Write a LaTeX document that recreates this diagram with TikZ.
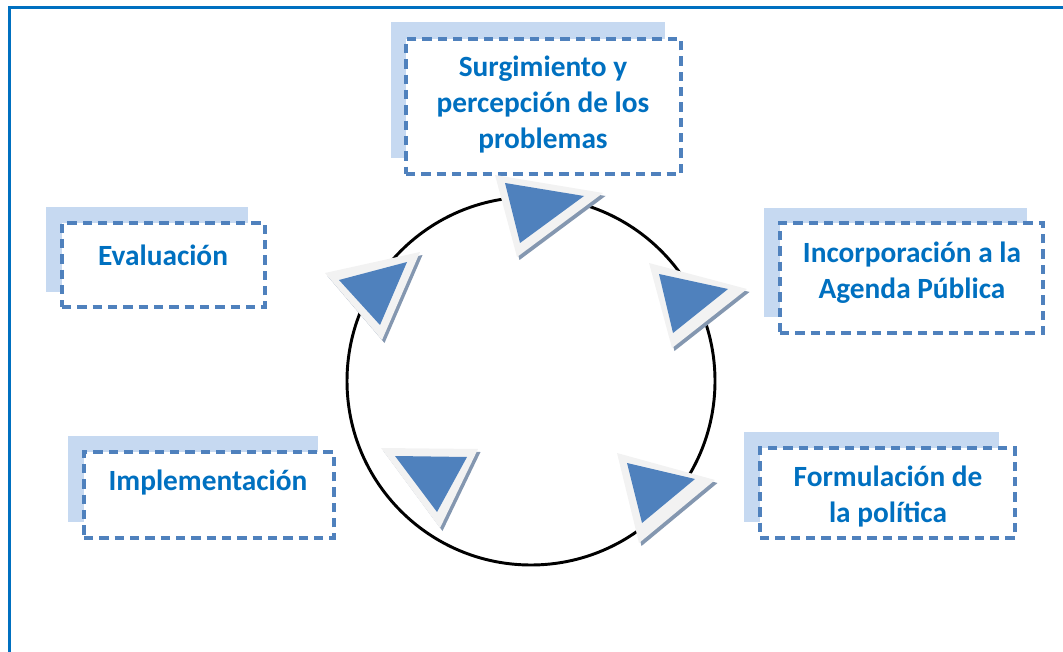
\documentclass[tikz,border=0pt]{standalone}
\usepackage{fontspec}
\setmainfont{Carlito}
\definecolor{txtblue}{HTML}{0070C0}
\definecolor{dashblue}{HTML}{4F81BD}
\definecolor{shadeblue}{HTML}{C6D9F1}
\definecolor{trifill}{HTML}{4F81BD}
\definecolor{triedge}{HTML}{F2F2F2}
\definecolor{trishadow}{HTML}{8497B0}
\tikzset{
  dbox/.style={draw=dashblue, line width=2.4pt, dash pattern=on 7pt off 4.5pt, fill=white, inner sep=0pt},
  sbox/.style={fill=shadeblue, draw=none, inner sep=0pt},
  lbl/.style={text=txtblue, font=\fontsize{22pt}{27pt}\selectfont\bfseries, align=center, inner sep=0pt},
  frame/.style={draw=txtblue, line width=2.4pt},
  ring/.style={draw=black, line width=2.2pt},
}
\newcommand{\shadowtri}[3]{%
  \fill[trishadow] ([shift={(2.5,3)}]#1) -- ([shift={(2.5,3)}]#2) -- ([shift={(2.5,3)}]#3) -- cycle;
}
\begin{document}
\begin{tikzpicture}[x=0.75pt,y=-0.75pt]
\useasboundingbox (0,0) rectangle (1063,652);
% frame
\coordinate (ftl) at (9.5,7.5);
\coordinate (ftr) at (1063,7.5);
\coordinate (fbl) at (9.5,652);
\draw[frame] (fbl) -- (ftl) -- (ftr);
% ring
\node[ring, circle, minimum size=276pt, inner sep=0pt] (ring) at (531,381) {};
% boxes: shadows then dashed boxes
\fill[shadeblue] (391,22) rectangle (665,158);
\node[dbox, minimum width=206.25pt, minimum height=101.25pt] (b1) at (543.5,106.5) {};
\fill[shadeblue] (764,208) rectangle (1027,317);
\node[dbox, minimum width=197.25pt, minimum height=82.5pt] (b2) at (911.5,278) {};
\fill[shadeblue] (744,432) rectangle (999,522);
\node[dbox, minimum width=191.25pt, minimum height=67.5pt] (b3) at (887.5,493) {};
\fill[shadeblue] (68,436) rectangle (318,522);
\node[dbox, minimum width=187.5pt, minimum height=64.5pt] (b4) at (209,495) {};
\fill[shadeblue] (46,207) rectangle (248,292);
\node[dbox, minimum width=152.25pt, minimum height=63pt] (b5) at (163.5,265) {};
% labels
\node[lbl] (t1) at (543,104.5) {Surgimiento y\\percepción de los\\problemas};
\node[lbl] (t2) at (912,273) {Incorporación a la\\Agenda Pública};
\node[lbl] (t3) at (888,497) {Formulación de\\la política};
\node[lbl] (t4) at (208,483) {Implementación};
\node[lbl] (t5) at (163,255) {Evaluación};
% triangles
% top
\coordinate (a1) at (495,175); \coordinate (a2) at (603,193); \coordinate (a3) at (517,257);
\coordinate (ai1) at (505,183); \coordinate (ai2) at (584,196); \coordinate (ai3) at (520,243);
% right
\coordinate (c1) at (649,263); \coordinate (c2) at (747,289); \coordinate (c3) at (672,348);
\coordinate (ci1) at (659,274); \coordinate (ci2) at (728,289); \coordinate (ci3) at (673,333);
% lower right
\coordinate (d1) at (617,453); \coordinate (d2) at (715,480); \coordinate (d3) at (639,543);
\coordinate (di1) at (627,463); \coordinate (di2) at (695,479); \coordinate (di3) at (642,523);
% bottom left
\coordinate (e1) at (381,448); \coordinate (e2) at (478,449); \coordinate (e3) at (440,528);
\coordinate (ei1) at (395,456); \coordinate (ei2) at (467,457); \coordinate (ei3) at (437,512);
% left
\coordinate (f1) at (325,273); \coordinate (f2) at (420,252); \coordinate (f3) at (382,340);
\coordinate (fi1) at (339,280); \coordinate (fi2) at (407,262); \coordinate (fi3) at (380,325);
\foreach \p in {a,c,d,e,f}{
  \shadowtri{\p1}{\p2}{\p3}
  \fill[triedge] (\p1) -- (\p2) -- (\p3) -- cycle;
  \fill[trifill] (\p i1) -- (\p i2) -- (\p i3) -- cycle;
}
\end{tikzpicture}
\end{document}
